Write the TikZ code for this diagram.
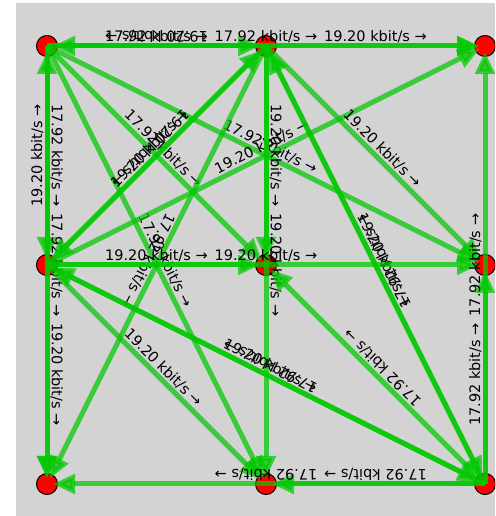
\documentclass[tikz,border=0pt]{standalone}
\usepackage{fontspec}
\setmainfont{DejaVu Sans}
\usetikzlibrary{arrows.meta}
\definecolor{plotbg}{RGB}{211,211,211}
\definecolor{linkgreen}{RGB}{0,200,0}

\begin{document}
\begin{tikzpicture}[
    x=1pt, y=1pt,
    host/.style={circle, draw=black, line width=1pt, fill=red, minimum size=21pt, inner sep=0pt},
    link/.style={draw=linkgreen, line width=5pt, draw opacity=0.72, fill opacity=0.72, shorten >=6pt, -{Triangle[length=22pt, width=19pt]}},
    rate/.style={sloped, allow upside down, above=0pt, inner sep=1pt, text opacity=1, font=\fontsize{14.5}{17}\selectfont},
    back/.style={rate, below=0pt}
]
    \clip (0,0) rectangle (495,516);
    \fill[plotbg] (16,0) rectangle (495,513);

    \node[host] (tl) at (47,470) {};
    \node[host] (tm) at (266,470) {};
    \node[host] (tr) at (485,470) {};
    \node[host] (ml) at (47,251) {};
    \node[host] (mm) at (266,251) {};
    \node[host] (mr) at (485,251) {};
    \node[host] (bl) at (47,32) {};
    \node[host] (bm) at (266,32) {};
    \node[host] (br) at (485,32) {};

    \draw[link] (tl.center) -- node[rate] {17.92 kbit/s →} (tm.center);
    \draw[link] (tm.center) -- node[back] {19.20 kbit/s →} (tl.center);
    \draw[link] (tl.center) -- node[rate] {17.92 kbit/s →} (tr.center);
    \draw[link] (tm.center) -- node[rate] {19.20 kbit/s →} (tr.center);
    \draw[link] (tl.center) -- node[rate] {17.92 kbit/s →} (ml.center);
    \draw[link] (ml.center) -- node[rate] {19.20 kbit/s →} (tl.center);
    \draw[link] (tl.center) -- node[rate] {17.92 kbit/s →} (bl.center);
    \draw[link] (ml.center) -- node[rate] {19.20 kbit/s →} (bl.center);
    \draw[link] (tl.center) -- node[rate] {17.92 kbit/s →} (mm.center);
    \draw[link] (tl.center) -- node[rate] {17.92 kbit/s →} (mr.center);
    \draw[link] (tl.center) -- node[rate] {17.92 kbit/s →} (bm.center);
    \draw[link] (ml.center) -- node[rate] {19.20 kbit/s →} (tm.center);
    \draw[link] (tm.center) -- node[back] {19.20 kbit/s →} (ml.center);
    \draw[link] (ml.center) -- node[rate] {19.20 kbit/s →} (tr.center);
    \draw[link] (tm.center) -- node[rate] {19.20 kbit/s →} (mm.center);
    \draw[link] (tm.center) -- node[rate] {19.20 kbit/s →} (bm.center);
    \draw[link] (tm.center) -- node[rate] {19.20 kbit/s →} (mr.center);
    \draw[link] (tm.center) -- node[back] {17.92 kbit/s →} (bl.center);
    \draw[link] (tm.center) -- node[rate] {19.20 kbit/s →} (br.center);
    \draw[link] (br.center) -- node[back] {17.92 kbit/s →} (tm.center);
    \draw[link] (ml.center) -- node[rate] {19.20 kbit/s →} (mm.center);
    \draw[link] (ml.center) -- node[rate] {19.20 kbit/s →} (mr.center);
    \draw[link] (ml.center) -- node[rate] {19.20 kbit/s →} (bm.center);
    \draw[link] (ml.center) -- node[rate] {19.20 kbit/s →} (br.center);
    \draw[link] (br.center) -- node[back] {17.92 kbit/s →} (ml.center);
    \draw[link] (br.center) -- node[back] {17.92 kbit/s →} (mm.center);
    \draw[link] (br.center) -- node[back] {17.92 kbit/s →} (bm.center);
    \draw[link] (br.center) -- node[back] {17.92 kbit/s →} (bl.center);
    \draw[link] (br.center) -- node[rate] {17.92 kbit/s →} (mr.center);
    \draw[link] (br.center) -- node[rate] {17.92 kbit/s →} (tr.center);
\end{tikzpicture}
\end{document}
